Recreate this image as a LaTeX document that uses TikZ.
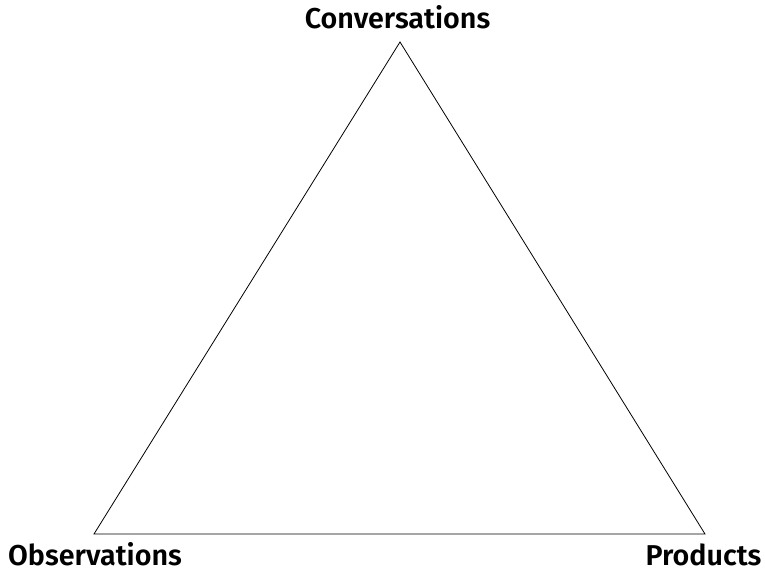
\documentclass[tikz,border=0pt]{standalone}
\usepackage{fontspec}
\setmainfont{Fira Sans}[BoldFont={Fira Sans SemiBold}]
\begin{document}
\begin{tikzpicture}[x=1bp,y=1bp,
  lbl/.style={font=\fontsize{28.8}{32}\selectfont\bfseries, inner sep=0pt, text depth=0pt, anchor=base},
  edge/.style={line width=0.8bp, line join=miter}]
\useasboundingbox (0,0) rectangle (765,571);
\coordinate (top) at (400,529);
\coordinate (bl) at (94,37);
\coordinate (br) at (705,37);
\draw[edge] (top) -- (bl) -- (br) -- cycle;
\node[lbl] (conv) at (397.5,542) {Conversations};
\node[lbl] (obs) at (95,5) {Observations};
\node[lbl] (prod) at (703.5,5) {Products};
\end{tikzpicture}
\end{document}
